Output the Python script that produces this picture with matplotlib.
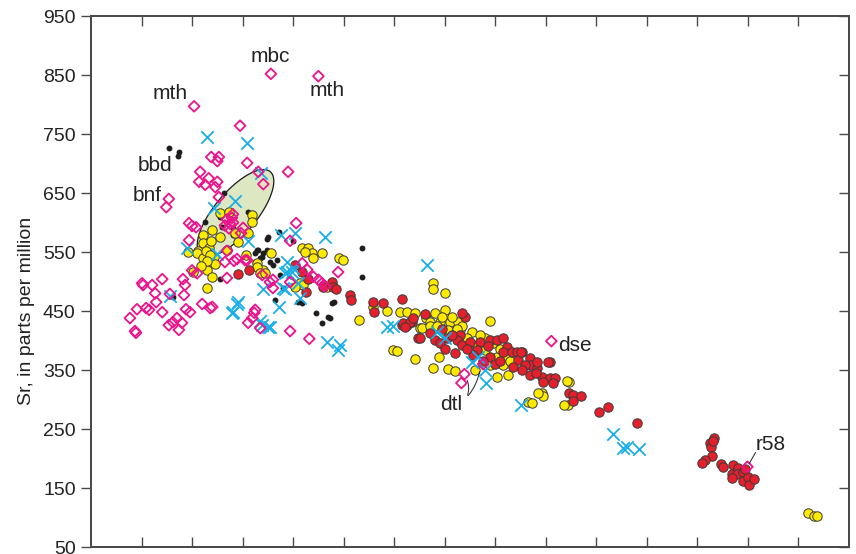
import numpy as np
import matplotlib
matplotlib.use('Agg')
import matplotlib.pyplot as plt
from matplotlib import font_manager
from matplotlib.patches import Polygon

# ------------------------------------------------------------
# Data (x in arbitrary units 0-15, Sr in ppm)
# ------------------------------------------------------------
diamond_x = [2.04, 3.56, 4.50, 2.95, 3.09, 2.38, 2.53, 2.50, 2.16, 2.14, 2.26, 2.33,
             2.50, 2.46, 2.53, 3.31, 3.41, 3.90, 4.06, 3.94, 1.54, 1.49, 1.94, 2.00,
             2.08, 1.94, 2.81, 3.01, 2.97, 2.69, 2.89, 3.09, 2.69, 2.75, 2.81, 2.73,
             2.65, 2.79, 4.89, 0.77, 0.91, 1.03, 1.01, 1.21, 1.09, 1.15, 1.29, 1.27,
             1.41, 1.41, 1.56, 1.54, 1.62, 1.70, 1.74, 1.80, 1.82, 1.86, 1.84, 1.88,
             1.96, 2.20, 2.36, 2.69, 0.89, 0.87, 3.11, 3.19, 3.23, 3.25, 3.35, 3.94,
             4.32, 3.54, 2.00, 2.10, 2.40, 2.65, 2.83, 3.05, 3.39, 3.60, 3.60, 4.18,
             4.28, 4.40, 4.50, 4.57, 4.63, 3.94, 7.33, 7.39, 7.76, 9.11, 12.99]
diamond_y = [797, 852, 848, 764, 701, 711, 711, 704, 686, 669, 664, 675,
             669, 660, 643, 686, 665, 686, 599, 569, 640, 626, 599, 594,
             592, 570, 614, 591, 582, 552, 538, 536, 605, 598, 600, 590,
             595, 608, 516, 438, 453, 494, 497, 494, 455, 452, 465, 480,
             504, 448, 479, 426, 431, 438, 418, 430, 504, 494, 477, 453,
             448, 462, 455, 506, 413, 416, 430, 438, 447, 452, 421, 416,
             403, 499, 519, 514, 457, 533, 535, 536, 511, 503, 489, 531,
             520, 508, 503, 497, 492, 499, 328, 343, 360, 399, 186]

cross_x = [2.30, 3.09, 3.37, 2.85, 2.44, 1.90, 2.50, 3.11, 3.76, 4.04, 4.63, 3.88,
           6.65, 1.56, 2.81, 2.89, 3.41, 3.35, 3.50, 3.72, 3.84, 3.88, 4.14, 4.10,
           4.67, 4.89, 4.93, 5.86, 5.98, 6.85, 7.01, 7.54, 7.80, 7.82, 8.50, 10.34,
           10.53, 10.61, 10.85, 3.84, 4.00, 2.79, 3.39, 3.54, 3.98, 3.80, 2.91, 7.65]
cross_y = [745, 735, 684, 636, 625, 557, 547, 569, 579, 582, 575, 533,
           528, 475, 448, 462, 487, 433, 423, 457, 487, 516, 472, 497,
           397, 384, 392, 423, 425, 414, 404, 364, 350, 328, 291, 242,
           218, 220, 216, 514, 523, 447, 426, 423, 516, 489, 465, 372]

dot_x = [1.54, 1.74, 1.72, 2.63, 2.26, 2.55, 3.11, 2.81, 3.49, 3.72, 4.00, 5.37,
         5.37, 3.25, 3.41, 3.35, 3.68, 1.63, 2.55, 4.46, 4.57, 4.69, 4.73, 4.77,
         4.81, 4.18, 3.80, 3.29, 3.49, 3.50, 3.60, 3.54, 2.59, 2.81, 3.39, 3.74,
         4.10, 3.64, 3.31, 3.25]
dot_y = [726, 720, 713, 650, 601, 609, 618, 591, 572, 584, 569, 557,
         508, 548, 548, 540, 536, 474, 504, 447, 430, 440, 438, 464,
         466, 464, 489, 553, 553, 575, 528, 533, 592, 579, 542, 511,
         465, 469, 553, 533]

yellow_x = [2.55, 2.73, 3.19, 3.19, 3.11, 2.85, 2.91, 2.22, 2.40, 2.22, 2.12, 2.34,
            2.55, 2.38, 1.92, 2.69, 2.44, 3.29, 3.41, 4.18, 4.30, 4.38, 4.57, 4.24,
            4.40, 4.91, 4.99, 3.56, 2.10, 2.22, 2.30, 5.31, 5.58, 5.86, 5.98, 6.06,
            6.42, 2.30, 2.02, 2.40, 3.29, 3.35, 3.45, 3.07, 4.14, 4.20, 4.04, 4.67,
            2.28, 2.36, 2.46, 2.30, 2.18, 6.12, 6.26, 6.42, 6.63, 6.51, 6.71, 6.81,
            7.01, 6.91, 7.11, 7.27, 7.07, 7.31, 7.54, 7.80, 7.45, 7.64, 7.80, 7.90,
            8.04, 8.20, 8.04, 8.26, 8.16, 8.93, 8.95, 9.45, 9.43, 9.41, 8.85, 8.65,
            8.73, 9.37, 7.90, 6.77, 6.77, 7.01, 6.77, 6.89, 7.07, 7.21, 7.60, 6.55,
            6.71, 7.15, 7.35, 6.95, 7.45, 7.70, 7.95, 8.10, 8.30, 7.25, 6.85, 14.18,
            14.30, 14.36]
yellow_y = [616, 618, 613, 601, 582, 582, 567, 579, 587, 565, 552, 557,
            575, 569, 550, 553, 542, 531, 519, 557, 557, 548, 548, 550,
            540, 540, 536, 549, 548, 540, 489, 435, 457, 450, 384, 382,
            369, 520, 516, 507, 524, 514, 514, 545, 497, 494, 491, 491,
            552, 545, 530, 535, 527, 448, 448, 447, 438, 421, 431, 447,
            452, 431, 431, 431, 418, 418, 414, 404, 389, 392, 384, 358,
            372, 372, 338, 341, 358, 311, 306, 330, 291, 331, 311, 296,
            294, 291, 433, 497, 487, 480, 353, 372, 352, 348, 350, 421,
            424, 440, 425, 440, 405, 410, 395, 385, 365, 420, 425, 108,
            103, 103]

red_x = [2.91, 3.13, 4.77, 4.79, 4.18, 4.04, 4.30, 5.13, 5.15, 4.85, 5.60, 5.78,
         5.58, 6.16, 6.16, 6.26, 6.36, 6.48, 6.71, 6.81, 6.18, 6.32, 6.38, 6.51,
         6.91, 7.05, 7.31, 7.25, 7.35, 7.41, 7.35, 7.50, 7.70, 7.90, 8.04, 8.16,
         8.24, 7.64, 7.90, 8.16, 8.34, 8.44, 8.53, 8.46, 8.69, 8.69, 8.59, 8.83,
         8.53, 8.69, 9.09, 8.93, 9.09, 9.19, 9.15, 9.45, 8.50, 8.83, 9.05, 9.54,
         9.54, 9.70, 10.06, 10.24, 10.81, 7.00, 7.20, 7.55, 7.75, 8.00, 8.35, 6.60,
         6.95, 7.15, 7.45, 7.85, 8.10, 8.80, 8.95, 6.22, 4.60, 4.26,
         12.32, 12.24, 12.26, 12.28, 12.16, 12.10, 12.46, 12.50, 12.71, 12.81, 12.69,
         12.79, 12.69, 12.91, 12.91, 13.01, 13.03, 13.13, 12.95, 12.30]
red_y = [513, 520, 499, 491, 516, 528, 505, 477, 469, 487, 448, 463,
         465, 470, 426, 426, 431, 404, 413, 401, 430, 431, 438, 404,
         396, 404, 409, 401, 392, 440, 447, 397, 397, 401, 401, 404,
         389, 384, 372, 380, 380, 380, 380, 367, 370, 358, 358, 353,
         350, 342, 363, 338, 336, 336, 328, 311, 380, 364, 364, 307,
         297, 306, 279, 287, 260, 385, 378, 375, 365, 360, 355, 445,
         420, 410, 385, 390, 365, 345, 330, 423, 490, 482,
         235, 226, 220, 204, 197, 192, 191, 186, 189, 184, 174,
         174, 167, 177, 162, 169, 155, 165, 182, 230]

labels = ['mth', 'mbc', 'mth', 'bbd', 'bnf', 'dse', 'dtl', 'r58']
label_x = [1.56, 3.55, 4.68, 1.27, 1.11, 9.25, 7.13, 13.45]
label_y = [819, 881, 823, 697, 645, 392, 292, 223]
label_ha = ['center', 'center', 'center', 'center', 'center', 'left', 'center', 'center']

# ------------------------------------------------------------
# Style
# ------------------------------------------------------------
installed = {f.name for f in font_manager.fontManager.ttflist}
narrow = 'Liberation Sans Narrow' if 'Liberation Sans Narrow' in installed else 'Liberation Sans'

RED = '#E3202B'
YELLOW = '#FFEA00'
MAGENTA = '#EC138C'
CYAN = '#19AEEA'
BLACK = '#1E1E1E'
EDGE = '#3A3A3A'
SPINE = '#4A4A4A'

fig = plt.figure(figsize=(8.56, 5.54), dpi=100)
ax = fig.add_axes([0.1063, 0.0126, 0.8855, 0.9585])

x0, x1, y0, y1 = 0, 15, 50, 950
ax.set_xlim(x0, x1)
ax.set_ylim(y0, y1)

# shaded ellipse (defined in screen-like proportions, then mapped to data units)
px_per_x = 50.5
px_per_y = 0.59
cx, cy = 2.86, 616
a_px, b_px, ang = 54, 21, np.deg2rad(50)
t = np.linspace(0, 2 * np.pi, 200)
ex = a_px * np.cos(t) * np.cos(ang) - b_px * np.sin(t) * np.sin(ang)
ey = a_px * np.cos(t) * np.sin(ang) + b_px * np.sin(t) * np.cos(ang)
ell = Polygon(np.column_stack([cx + ex / px_per_x, cy + ey / px_per_y]),
              closed=True, facecolor='#DDE8C2', edgecolor='#1A1A1A', lw=0.9, zorder=1)
ax.add_patch(ell)

ax.scatter(dot_x, dot_y, s=18, color=BLACK, lw=0, zorder=2)
ax.scatter(yellow_x, yellow_y, s=46, facecolor=YELLOW, edgecolor=EDGE, lw=0.7, zorder=3)
ax.scatter(red_x, red_y, s=46, facecolor=RED, edgecolor=EDGE, lw=0.7, zorder=3)
ax.scatter(cross_x, cross_y, s=80, marker='x', color=CYAN, lw=1.3, zorder=4)
ax.scatter(diamond_x, diamond_y, s=30, marker='D', facecolor='none',
           edgecolor=MAGENTA, lw=1.3, zorder=5)

for lab, lx, ly, ha in zip(labels, label_x, label_y, label_ha):
    ax.text(lx, ly, lab, ha=ha, va='center', fontsize=15,
            family='Liberation Sans', color='#222222', zorder=6)

# leader lines
ax.annotate('', xy=(7.42, 337), xytext=(7.43, 303),
            arrowprops=dict(arrowstyle='-', lw=0.7, color='#222222',
                            connectionstyle='arc3,rad=0.25'))
ax.annotate('', xy=(7.70, 352), xytext=(7.43, 303),
            arrowprops=dict(arrowstyle='-', lw=0.7, color='#222222',
                            connectionstyle='arc3,rad=0.15'))
ax.plot([13.03, 13.15], [192, 210], color='#222222', lw=0.7, zorder=6)

# axes and ticks
ax.set_xticks(np.arange(1, 15))
ax.set_xticklabels([])
ax.set_yticks(np.arange(50, 951, 100))
ax.tick_params(axis='x', which='both', direction='in', top=True, bottom=True,
               length=7, width=1.0, color=SPINE)
ax.tick_params(axis='y', which='both', direction='out', left=True, right=False,
               length=7, width=1.0, color=SPINE, labelsize=14, pad=4)
for lab in ax.get_yticklabels():
    lab.set_family(narrow)
    lab.set_color('#222222')

# right-side inward ticks
ax_r = ax.twinx()
ax_r.set_ylim(y0, y1)
ax_r.set_yticks(np.arange(50, 951, 100))
ax_r.set_yticklabels([])
ax_r.tick_params(axis='y', direction='in', length=7, width=1.0, color=SPINE)

for a in (ax, ax_r):
    for sp in a.spines.values():
        sp.set_color(SPINE)
        sp.set_linewidth(1.4)

ax.set_ylabel('Sr, in parts per million', fontsize=14, family='Liberation Sans',
              color='#222222')
ax.yaxis.set_label_coords(-0.074, 0.445)

fig.savefig('out.png', dpi=100)
